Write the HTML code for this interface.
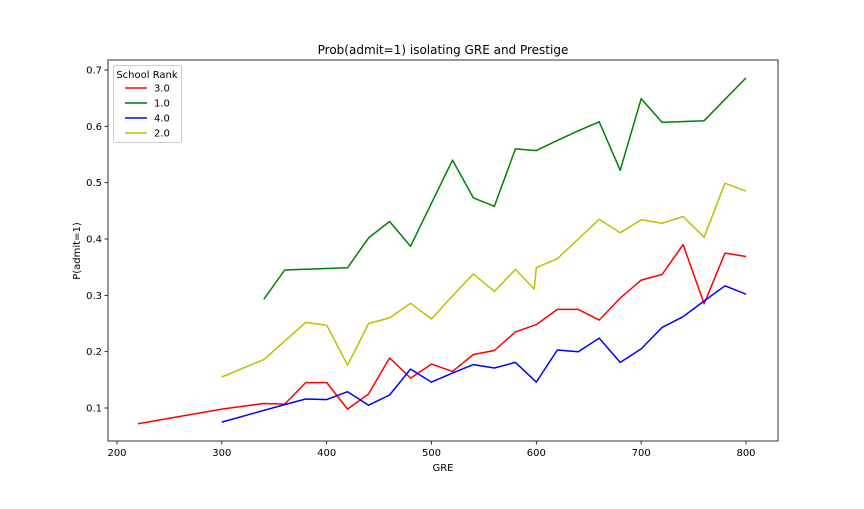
<!DOCTYPE html>
<html><head><meta charset="utf-8"><style>
body{margin:0;background:#fff;}
svg text{font-family:"DejaVu Sans","Liberation Sans",sans-serif;fill:#000;}
</style></head><body>
<svg width="864" height="504" xmlns="http://www.w3.org/2000/svg">
<rect width="864" height="504" fill="#fff"/>
<g id="plot"></g>
<text x="443" y="54" text-anchor="middle" font-size="12">Prob(admit=1) isolating GRE and Prestige</text>
<text x="443" y="471" text-anchor="middle" font-size="10">GRE</text>
<text transform="translate(80,251) rotate(-90)" text-anchor="middle" font-size="10">P(admit=1)</text>
</svg>
<script>
const xTicks=[200,300,400,500,600,700,800];
const yTicks=[0.1,0.2,0.3,0.4,0.5,0.6,0.7];
const seriesNames=["3.0","1.0","4.0","2.0"];
const seriesColors=["#ff0000","#008000","#0000ff","#bfbf00"];
const redX=[220,300,340,360,380,400,420,440,460,480,500,520,540,560,580,600,620,640,660,680,700,720,740,760,780,800];
const redY=[0.072,0.098,0.108,0.107,0.145,0.145,0.098,0.125,0.189,0.153,0.178,0.165,0.195,0.202,0.235,0.248,0.275,0.275,0.256,0.295,0.327,0.337,0.390,0.285,0.375,0.369];
const greenX=[340,360,420,440,460,480,520,540,560,580,600,620,640,660,680,700,720,760,800];
const greenY=[0.293,0.345,0.349,0.402,0.431,0.387,0.540,0.473,0.458,0.560,0.557,0.575,0.592,0.608,0.522,0.649,0.607,0.610,0.686];
const blueX=[300,360,380,400,420,440,460,480,500,520,540,560,580,600,620,640,660,680,700,720,740,760,780,800];
const blueY=[0.075,0.106,0.116,0.115,0.129,0.105,0.123,0.169,0.146,0.162,0.177,0.171,0.181,0.146,0.203,0.200,0.224,0.181,0.205,0.243,0.262,0.290,0.317,0.302];
const yellowX=[300,340,380,400,420,440,460,480,500,520,540,560,580,598,600,620,660,680,700,720,740,760,780,800];
const yellowY=[0.155,0.186,0.252,0.247,0.176,0.250,0.260,0.286,0.258,0.299,0.338,0.307,0.346,0.311,0.349,0.365,0.435,0.411,0.434,0.428,0.440,0.403,0.499,0.485];

const L=108,R=778,T=60,B=441;
const sx=v=>117+(v-200)*(746-117)/600;
const sy=v=>408-(v-0.1)*(408-70)/0.6;
const NS="http://www.w3.org/2000/svg";
const g=document.getElementById('plot');
function mk(t,a,p){const e=document.createElementNS(NS,t);for(const k in a)e.setAttribute(k,a[k]);(p||g).appendChild(e);return e;}

xTicks.forEach(v=>{
  const l=mk('line',{x1:sx(v),x2:sx(v),y1:B,y2:B+3.5,stroke:'#000','stroke-width':0.8});
  
  
  const t=mk('text',{x:sx(v),y:B+15,'text-anchor':'middle','font-size':10});
  t.textContent=v;
  
  
});
yTicks.forEach(v=>{
  const l=mk('line',{x1:L-3.5,x2:L,y1:sy(v),y2:sy(v),stroke:'#000','stroke-width':0.8});
  
  
  const t=mk('text',{x:L-6,y:sy(v)+3.5,'text-anchor':'end','font-size':10});
  t.textContent=v.toFixed(1);
  
  
});

const allX=[redX,greenX,blueX,yellowX], allY=[redY,greenY,blueY,yellowY];
const lineNames=['line-rank-3','line-rank-1','line-rank-4','line-rank-2'];
allX.forEach((xs,i)=>{
  const pts=xs.map((x,j)=>sx(x).toFixed(1)+','+sy(allY[i][j]).toFixed(1)).join(' ');
  const p=mk('polyline',{points:pts,fill:'none',stroke:seriesColors[i],'stroke-width':1.5,'stroke-linejoin':'round'});
  
  
});

const frame=mk('rect',{x:L,y:T,width:R-L,height:B-T,fill:'none',stroke:'#000','stroke-width':0.8});



const leg=mk('g',{});


mk('rect',{x:113.5,y:65.5,width:68,height:77,rx:2,fill:'#fff',stroke:'#ccc','stroke-width':1},leg);
const lt=mk('text',{x:147,y:78,'text-anchor':'middle','font-size':10},leg);
lt.textContent='School Rank';
seriesNames.forEach((n,i)=>{
  const y=88+i*15;
  const e=mk('g',{},leg);
  
  
  mk('line',{x1:125,x2:147,y1:y,y2:y,stroke:seriesColors[i],'stroke-width':1.5},e);
  const t=mk('text',{x:154,y:y+3.5,'font-size':10},e);
  t.textContent=n;
});
</script>
</body></html>
